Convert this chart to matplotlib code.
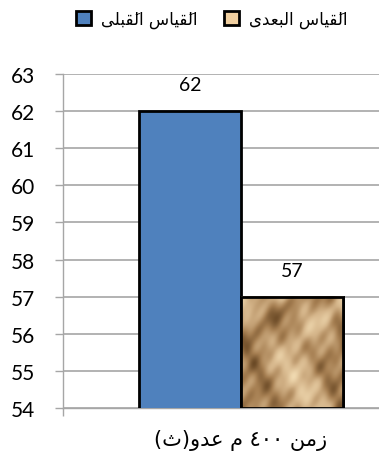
import matplotlib
matplotlib.use("Agg")
import matplotlib.pyplot as plt
import numpy as np
from matplotlib.patches import Patch
from matplotlib.colors import LinearSegmentedColormap

# النصوص العربية مكتوبة بأشكال العرض (ترتيب بصري) لأن matplotlib لا يشكّل الحروف
lbl_before = "\uFEF0\uFEE0\uFE92\uFED8\u064E\uFEDF\uFE8D \uFEB1\uFE8E\uFEF4\uFED8\u064E\uFEDF\uFE8D"   # القَياس القَبلى
lbl_after = "\uFEEF\uFEAA\uFECC\uFE92\uFEDF\uFE8D \uFEB1\uFE8E\uFEF4\uFED8\u064E\uFEDF\uFE8D"        # القَياس البعدى
category = "(\uFE99)\uFEED\uFEAA\uFECB \uFEE1 \u0664\u0660\u0660 \uFEE6\uFEE3\uFEAF"              # زمن ٤٠٠ م عدو(ث)

before = [62]
after = [57]
yticks = [54, 55, 56, 57, 58, 59, 60, 61, 62, 63]

blue = "#4f81bd"
tan = "#c9a878"
grid_c = "#a6a6a6"
w = 0.287
ymin, ymax = 54, 63

fig = plt.figure(figsize=(3.79, 4.64), dpi=100)
ax = fig.add_axes([63/379, 55/464, 356/379, 334/464])

x = np.arange(len(before))
b1 = ax.bar(x - w/2, before, w, color=blue, edgecolor="black", linewidth=2, zorder=3)
b2 = ax.bar(x + w/2, after, w, color=tan, edgecolor="black", linewidth=2, zorder=3)

# نسيج الورق المجعد داخل العمود الثاني
yy, xx = np.mgrid[0:1:200j, 0:1:200j]
tex = (np.sin(7*xx + 5*yy + 2*np.sin(4*yy)) + 0.7*np.sin(13*xx - 9*yy + 1.3 + np.sin(6*xx))
       + 0.5*np.sin(19*xx + 23*yy + 0.7) + 0.35*np.sin(31*xx - 13*yy + 2.1 + 1.5*np.sin(5*yy))
       + 0.25*np.sin(47*xx + 29*yy + 0.4))
cmap = LinearSegmentedColormap.from_list("paper", ["#6b4a26", "#a67f52", "#d4b489", "#f0d9b0"])
for r in b2:
    x0 = r.get_x()
    top = r.get_height()
    ax.imshow(tex, cmap=cmap, extent=[x0, x0 + r.get_width(), ymin, top],
              aspect="auto", zorder=3.5, interpolation="bilinear")
    edge = plt.Rectangle((x0, ymin), r.get_width(), top - ymin, fill=False,
                         edgecolor="black", linewidth=2, zorder=4)
    ax.add_patch(edge)

for r, v in zip(list(b1) + list(b2), before + after):
    ax.annotate(str(v), (r.get_x() + r.get_width()/2, v),
                xytext=(0, 19), textcoords="offset points", ha="center", va="center",
                fontsize=14, family="Lato")

ax.set_ylim(ymin, ymax)
ax.set_xlim(-0.5, 0.5)
ax.set_yticks(yticks)
ax.set_yticklabels([str(t) for t in yticks], fontsize=15, family="Lato")
ax.tick_params(axis="y", length=6, width=1, color=grid_c, pad=14)
ax.set_xticks([0])
ax.set_xticklabels([category], fontsize=15, family="DejaVu Sans")
ax.tick_params(axis="x", length=0, pad=15)
ax.set_xticks([-0.5], minor=True)
ax.tick_params(axis="x", which="minor", length=6, color=grid_c, width=1)
ax.yaxis.grid(True, color=grid_c, linewidth=1.2, zorder=0)
ax.set_axisbelow(True)
for s in ["top", "right"]:
    ax.spines[s].set_visible(False)
for s in ["left", "bottom"]:
    ax.spines[s].set_color(grid_c)
    ax.spines[s].set_linewidth(1)

handles = [Patch(facecolor=blue, edgecolor="black", linewidth=2),
           Patch(facecolor="#f0cfa0", edgecolor="black", linewidth=2)]
fig.legend(handles, [lbl_before, lbl_after], loc="upper left", bbox_to_anchor=(0.16, 1.01),
           ncol=2, frameon=False, handlelength=0.9, handleheight=0.9, columnspacing=1.6,
           handletextpad=0.6, prop={"family": "DejaVu Sans", "size": 12})

fig.savefig("out.png", dpi=100)
